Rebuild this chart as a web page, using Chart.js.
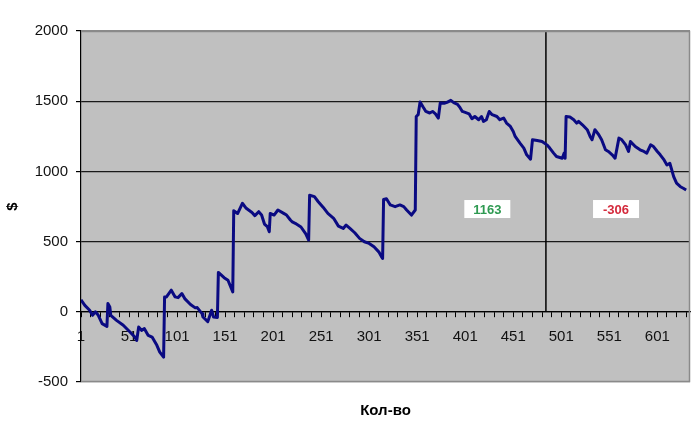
<!DOCTYPE html>
<html>
<head>
<meta charset="utf-8">
<script src="https://cdn.jsdelivr.net/npm/chart.js@4/dist/chart.umd.min.js"></script>
<style>
  html, body { margin: 0; padding: 0; background: #fff; }
  #wrap { width: 700px; height: 422px; }
</style>
</head>
<body>
<div id="wrap"><canvas id="chart"></canvas></div>
<script>
// trade number (category) and running balance
var tradeNo = [
    1, 5, 10, 13, 16, 19, 23, 28, 29, 31, 32, 38, 45, 52, 57, 59, 61, 64, 67, 71,
    75, 80, 83, 87, 88, 90, 95, 99, 102, 106, 109, 115, 120, 122, 127, 128, 133, 137, 139, 143,
    144, 150, 154, 159, 160, 164, 169, 173, 179, 182, 186, 189, 192, 195, 197, 198, 202, 206, 212, 215,
    219, 221, 224, 230, 235, 238, 239, 244, 248, 253, 258, 264, 269, 274, 277, 281, 286, 291, 296, 301,
    306, 311, 314, 315, 316, 319, 323, 328, 333, 337, 340, 345, 349, 350, 352, 354, 357, 360, 364, 367,
    370, 373, 375, 379, 382, 386, 389, 393, 395, 398, 401, 405, 408, 411, 415, 418, 420, 423, 426, 429,
    434, 437, 441, 444, 448, 451, 453, 458, 462, 465, 469, 471, 476, 481, 486, 489, 493, 496, 502, 504,
    505, 506, 510, 514, 517, 519, 523, 528, 531, 533, 536, 540, 543, 547, 550, 554, 557, 561, 564, 568,
    571, 573, 578, 583, 587, 590, 594, 597, 601, 604, 608, 611, 614, 616, 618, 621, 625, 628, 631
];
var balance = [
    85, 46, 11, -25, 0, -25, -84, -104, 59, 34, -25, -61, -96, -144, -180, -204, -109, -132, -120, -168,
    -180, -239, -287, -323, 106, 106, 154, 106, 101, 130, 94, 52, 28, 30, -13, -37, -70, 11, -37, -40,
    280, 243, 225, 142, 720, 700, 773, 737, 707, 685, 713, 690, 625, 606, 570, 701, 689, 725, 701, 689,
    654, 640, 630, 604, 555, 511, 830, 820, 784, 745, 701, 666, 610, 594, 618, 594, 563, 523, 499, 487,
    463, 427, 391, 380, 800, 805, 761, 749, 761, 749, 725, 689, 725, 1391, 1404, 1495, 1460, 1427, 1416, 1427,
    1410, 1380, 1487, 1485, 1492, 1506, 1490, 1478, 1460, 1427, 1420, 1410, 1375, 1391, 1368, 1391, 1356, 1368, 1427, 1404,
    1391, 1368, 1380, 1344, 1320, 1284, 1249, 1201, 1166, 1118, 1087, 1225, 1220, 1213, 1189, 1166, 1130, 1106, 1094, 1130,
    1094, 1391, 1387, 1368, 1344, 1356, 1332, 1297, 1249, 1225, 1297, 1261, 1225, 1154, 1142, 1118, 1094, 1237, 1225, 1189,
    1142, 1213, 1177, 1154, 1142, 1130, 1189, 1177, 1142, 1118, 1082, 1046, 1058, 1011, 963, 916, 891, 880, 868
];

// split marker (vertical line) and the two result boxes
var splitAt = 485;
var splitRange = [0, 2000];
var noteTexts = ['1163', '-306'];
var noteX = [424, 558];
var noteY = [732, 732];
var noteColors = ['#2f9a52', '#d42a3c'];

var yTicks = [-500, 0, 500, 1000, 1500, 2000];
var xLabels = ['1', '51', '101', '151', '201', '251', '301', '351', '401', '451', '501', '551', '601'];
var xMinorStep = 10;
var xMax = 635;

var seriesPoints = tradeNo.map(function (t, i) { return { x: t, y: balance[i] }; });
var splitPoints = splitRange.map(function (v) { return { x: splitAt, y: v }; });

var FONT = "'Liberation Sans', Arial, sans-serif";

var plotBox = {
    id: 'plotBox',
    beforeDraw: function (c) {
        var a = c.chartArea, g = c.ctx;
        g.save();
        g.fillStyle = '#c0c0c0';
        g.fillRect(a.left, a.top, a.right - a.left, a.bottom - a.top);
        g.restore();
    },
    afterDraw: function (c) {
        var a = c.chartArea, g = c.ctx;
        g.save();
        g.strokeStyle = '#8a8a8a';
        g.lineWidth = 1.5;
        g.beginPath();
        g.moveTo(a.left, a.top + 0.5);
        g.lineTo(a.right - 0.5, a.top + 0.5);
        g.lineTo(a.right - 0.5, a.bottom - 0.5);
        g.lineTo(a.left, a.bottom - 0.5);
        g.stroke();
        // result notes
        var xs = c.scales.x, ys = c.scales.y;
        g.font = 'bold 13px ' + FONT;
        g.textAlign = 'center';
        g.textBaseline = 'middle';
        noteTexts.forEach(function (t, i) {
            var px = xs.getPixelForValue(noteX[i]);
            var py = ys.getPixelForValue(noteY[i]);
            g.fillStyle = '#ffffff';
            g.fillRect(px - 23, py - 9, 46, 18);
            g.fillStyle = noteColors[i];
            g.fillText(t, px, py + 1);
        });
        g.restore();
    }
};

var ctx = document.getElementById('chart').getContext('2d');

var chart = new Chart(ctx, {
    type: 'line',
    data: {
        datasets: [
            {
                label: 'split',
                data: splitPoints,
                borderColor: '#000000',
                borderWidth: 1.5,
                pointRadius: 0,
                order: 2
            },
            {
                label: 'balance',
                data: seriesPoints,
                borderColor: '#0a0a82',
                borderWidth: 3,
                pointRadius: 0,
                tension: 0,
                borderJoinStyle: 'round',
                order: 1
            }
        ]
    },
    options: {
        responsive: true,
        maintainAspectRatio: false,
        animation: false,
        layout: { padding: { top: 31, right: 10, left: 0, bottom: 0 } },
        plugins: {
            legend: { display: false },
            tooltip: { enabled: false },
            title: {
                display: true,
                text: 'Кол-во',
                position: 'bottom',
                fullSize: false,
                color: '#000',
                font: { family: FONT, size: 15, weight: 'bold' },
                padding: { top: 20, bottom: 2 }
            }
        },
        scales: {
            x: {
                type: 'linear',
                axis: 'x',
                position: { y: 0 },
                min: 1,
                max: xMax,
                afterBuildTicks: function (s) {
                    var t = [];
                    for (var v = 1; v <= xMax; v += xMinorStep) t.push({ value: v });
                    s.ticks = t;
                },
                ticks: {
                    autoSkip: false,
                    maxRotation: 0,
                    padding: 11,
                    color: '#111',
                    font: { family: FONT, size: 15 },
                    callback: function (v) {
                        return xLabels.indexOf(String(v)) >= 0 ? String(v) : '';
                    }
                },
                grid: {
                    drawOnChartArea: false,
                    drawTicks: true,
                    tickLength: 5,
                    tickColor: '#000'
                },
                border: { color: '#000', width: 1.2 }
            },
            y: {
                min: -500,
                max: 2000,
                afterBuildTicks: function (s) {
                    s.ticks = yTicks.map(function (v) { return { value: v }; });
                },
                afterFit: function (s) { s.width = 81; },
                ticks: {
                    padding: 8,
                    color: '#111',
                    font: { family: FONT, size: 15 },
                    callback: function (v) { return String(v); }
                },
                grid: {
                    color: function (c) {
                        var v = c.tick ? c.tick.value : 0;
                        return (v === 2000 || v === -500) ? '#8a8a8a' : '#1a1a1a';
                    },
                    lineWidth: 1.2,
                    tickLength: 5,
                    tickColor: '#000'
                },
                border: { color: '#000', width: 1.2 },
                title: {
                    display: true,
                    text: '$',
                    color: '#000',
                    font: { family: FONT, size: 15, weight: 'bold' },
                    padding: { top: 4, bottom: 0 }
                }
            }
        }
    },
    plugins: [plotBox]
});
</script>
</body>
</html>
